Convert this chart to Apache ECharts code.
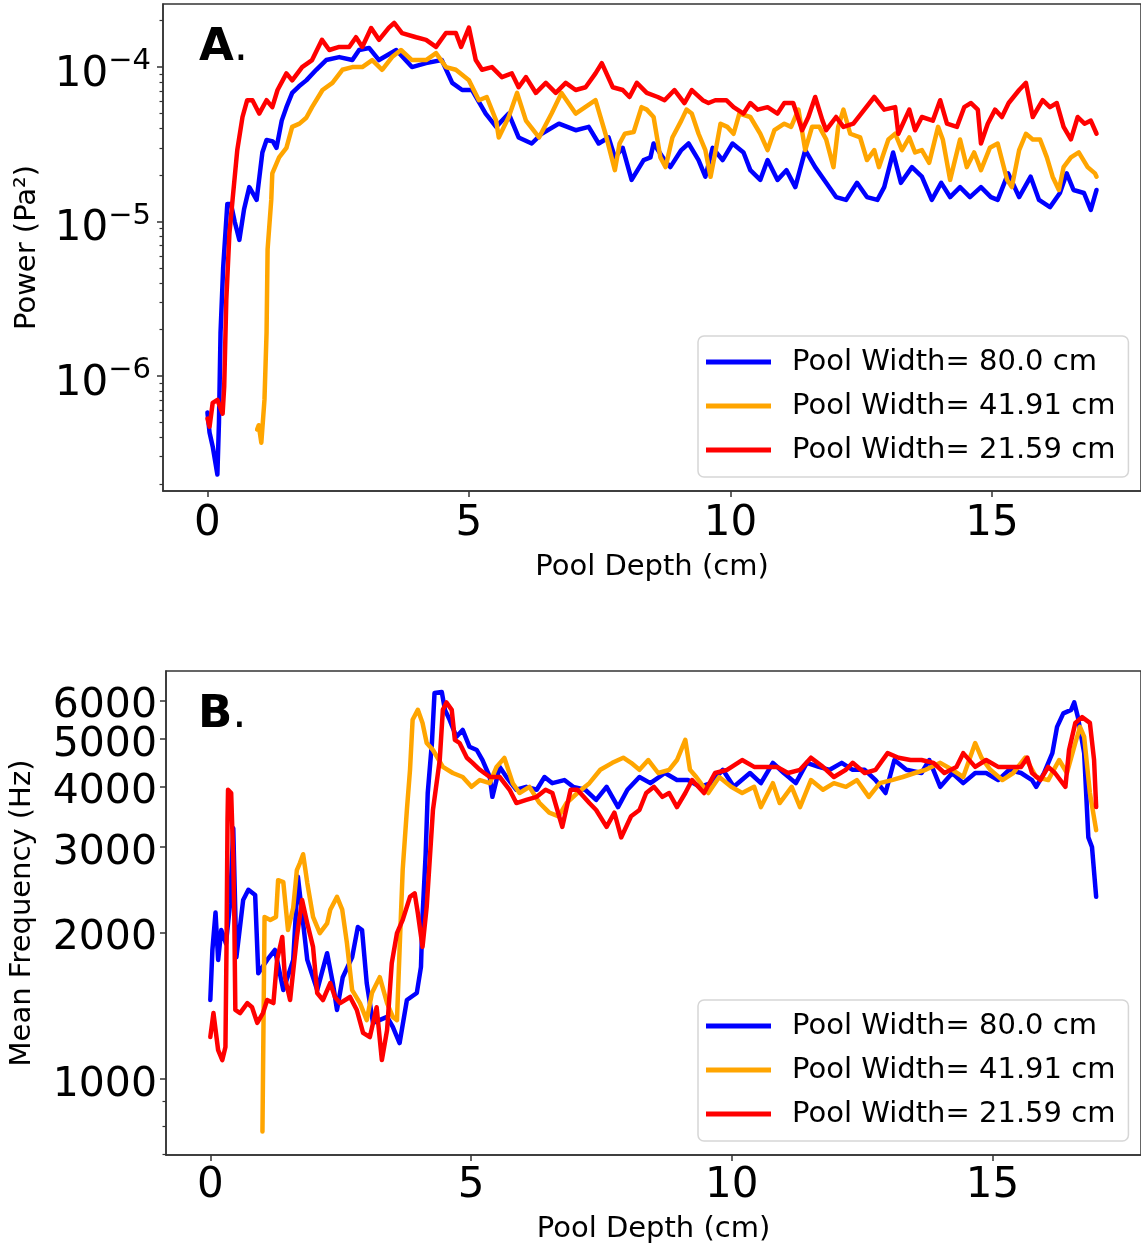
<!DOCTYPE html>
<html><head><meta charset="utf-8">
<script src="https://cdn.jsdelivr.net/npm/echarts@6/dist/echarts.min.js"></script>
<style>html,body{margin:0;padding:0;background:#fff}#c{width:1141px;height:1245px}</style>
</head><body><div id="c"></div>
<script>
const seriesNames = ['Pool Width= 80.0 cm', 'Pool Width= 41.91 cm', 'Pool Width= 21.59 cm'];
const seriesColors = ['#0000ff', '#ffa500', '#ff0000'];
const depthTicks = [0, 5, 10, 15];
const powerTicks = [1e-6, 1e-5, 1e-4];
const powerMinorTicks = [2e-7,3e-7,4e-7,5e-7,6e-7,7e-7,8e-7,9e-7,2e-6,3e-6,4e-6,5e-6,6e-6,7e-6,8e-6,9e-6,2e-5,3e-5,4e-5,5e-5,6e-5,7e-5,8e-5,9e-5,2e-4];
const freqTicks = [1000, 2000, 3000, 4000, 5000, 6000];
const freqLabelsEven = [2000, 4000, 6000];
const freqLabelsOdd = [1000, 3000, 5000];
const freqMinorTicks = [700, 800, 900];

// Panel A: [pool depth (cm), power (Pa^2)]
const powerA_80 = [[0,5.8e-7],[0.04,4.3e-7],[0.1,3.5e-7],[0.19,2.3e-7],[0.22,5e-7],[0.25,1.9e-6],[0.3,5e-6],[0.38,1.3e-5],[0.45,1.3e-5],[0.52,1e-5],[0.61,7.6e-6],[0.7,1.2e-5],[0.8,1.67e-5],[0.88,1.5e-5],[0.94,1.38e-5],[1.05,2.8e-5],[1.13,3.37e-5],[1.25,3.3e-5],[1.32,3.0e-5],[1.42,4.5e-5],[1.51,5.5e-5],[1.62,6.8e-5],[1.75,7.5e-5],[1.89,8.2e-5],[2.08,9.6e-5],[2.27,1.11e-4],[2.52,1.16e-4],[2.77,1.11e-4],[2.9,1.29e-4],[3.09,1.33e-4],[3.28,1.11e-4],[3.61,1.29e-4],[3.91,1.0e-4],[4.18,1.06e-4],[4.48,1.11e-4],[4.68,7.9e-5],[4.87,7.1e-5],[5.06,7.1e-5],[5.32,5.0e-5],[5.52,4.1e-5],[5.76,5.0e-5],[5.95,3.5e-5],[6.2,3.2e-5],[6.39,3.7e-5],[6.72,4.3e-5],[7.04,3.9e-5],[7.29,4.1e-5],[7.48,3.2e-5],[7.67,3.5e-5],[7.79,2.6e-5],[7.94,3.0e-5],[8.11,1.86e-5],[8.34,2.5e-5],[8.47,2.6e-5],[8.53,3.2e-5],[8.74,2.5e-5],[8.85,2.25e-5],[9.06,2.9e-5],[9.2,3.2e-5],[9.39,2.5e-5],[9.52,1.95e-5],[9.66,3.0e-5],[9.85,2.5e-5],[10.04,3.2e-5],[10.25,2.8e-5],[10.38,2.15e-5],[10.57,1.86e-5],[10.71,2.5e-5],[10.9,1.86e-5],[11.07,2.15e-5],[11.24,1.67e-5],[11.43,2.9e-5],[11.62,2.25e-5],[11.83,1.78e-5],[12.02,1.44e-5],[12.21,1.38e-5],[12.42,1.78e-5],[12.61,1.44e-5],[12.81,1.38e-5],[12.94,1.67e-5],[13.11,2.8e-5],[13.26,1.78e-5],[13.47,2.25e-5],[13.66,1.95e-5],[13.85,1.38e-5],[14.03,1.78e-5],[14.2,1.44e-5],[14.39,1.67e-5],[14.58,1.44e-5],[14.79,1.67e-5],[14.98,1.44e-5],[15.11,1.38e-5],[15.31,2.05e-5],[15.52,1.44e-5],[15.74,1.95e-5],[15.9,1.38e-5],[16.11,1.24e-5],[16.3,1.53e-5],[16.43,2.05e-5],[16.56,1.6e-5],[16.76,1.53e-5],[16.89,1.19e-5],[17.0,1.6e-5]];
const powerA_4191 = [[0.95,4.5e-7],[0.98,4.8e-7],[1.03,3.7e-7],[1.09,7e-7],[1.13,1.9e-6],[1.15,6.6e-6],[1.22,1.38e-5],[1.24,2.05e-5],[1.37,2.6e-5],[1.51,3.0e-5],[1.62,4.1e-5],[1.76,4.3e-5],[1.89,4.7e-5],[2.0,5.5e-5],[2.2,7.1e-5],[2.39,7.9e-5],[2.58,9.6e-5],[2.77,1.0e-4],[2.96,1.0e-4],[3.15,1.11e-4],[3.34,9.6e-5],[3.53,1.16e-4],[3.7,1.29e-4],[3.91,1.11e-4],[4.18,1.11e-4],[4.37,1.23e-4],[4.56,1.0e-4],[4.75,9.6e-5],[5.0,8.2e-5],[5.19,6.1e-5],[5.34,6.4e-5],[5.52,4.5e-5],[5.57,3.5e-5],[5.76,4.75e-5],[5.92,6.8e-5],[6.09,4.5e-5],[6.34,3.5e-5],[6.58,5.0e-5],[6.77,6.8e-5],[7.04,5.0e-5],[7.42,6.1e-5],[7.61,3.7e-5],[7.79,2.15e-5],[7.88,3.2e-5],[7.98,3.7e-5],[8.15,3.8e-5],[8.3,5.5e-5],[8.4,5.3e-5],[8.53,4.75e-5],[8.66,2.6e-5],[8.76,2.25e-5],[8.89,3.5e-5],[9.06,4.5e-5],[9.16,5.3e-5],[9.26,5.0e-5],[9.39,3.7e-5],[9.52,2.9e-5],[9.62,1.95e-5],[9.71,2.8e-5],[9.81,4.3e-5],[9.94,4.1e-5],[10.06,3.7e-5],[10.17,5.0e-5],[10.38,4.75e-5],[10.57,3.7e-5],[10.71,2.9e-5],[10.84,3.9e-5],[11.03,4.3e-5],[11.16,4.1e-5],[11.3,5.3e-5],[11.43,2.9e-5],[11.56,4.1e-5],[11.7,4.1e-5],[11.83,3.4e-5],[11.97,2.25e-5],[12.06,4.1e-5],[12.16,5.3e-5],[12.29,3.7e-5],[12.48,3.5e-5],[12.61,2.5e-5],[12.75,2.9e-5],[12.84,2.25e-5],[13.02,3.4e-5],[13.15,3.7e-5],[13.28,2.9e-5],[13.42,3.5e-5],[13.53,2.8e-5],[13.66,2.9e-5],[13.8,2.4e-5],[13.97,4.1e-5],[14.06,3.4e-5],[14.2,1.86e-5],[14.39,3.4e-5],[14.52,2.25e-5],[14.66,2.8e-5],[14.79,2.15e-5],[14.96,3.0e-5],[15.11,3.2e-5],[15.29,1.86e-5],[15.38,1.67e-5],[15.52,2.9e-5],[15.65,3.7e-5],[15.78,3.4e-5],[15.92,3.4e-5],[16.05,2.6e-5],[16.16,1.95e-5],[16.28,1.6e-5],[16.37,2.25e-5],[16.51,2.6e-5],[16.66,2.8e-5],[16.83,2.25e-5],[16.97,2.05e-5],[17.0,1.95e-5]];
const powerA_2159 = [[0,5.3e-7],[0.04,4.7e-7],[0.1,6.7e-7],[0.19,7e-7],[0.29,5.7e-7],[0.32,8.5e-7],[0.36,3.1e-6],[0.42,8.4e-6],[0.48,1.38e-5],[0.57,2.9e-5],[0.67,4.75e-5],[0.76,6.1e-5],[0.86,6.1e-5],[0.99,5.0e-5],[1.13,6.1e-5],[1.24,5.5e-5],[1.34,7.1e-5],[1.51,9.1e-5],[1.62,8.2e-5],[1.81,1.0e-4],[2.0,1.11e-4],[2.19,1.5e-4],[2.33,1.29e-4],[2.52,1.35e-4],[2.71,1.35e-4],[2.84,1.56e-4],[2.96,1.35e-4],[3.13,1.79e-4],[3.28,1.5e-4],[3.47,1.8e-4],[3.57,1.93e-4],[3.72,1.66e-4],[3.99,1.56e-4],[4.18,1.5e-4],[4.37,1.35e-4],[4.56,1.66e-4],[4.75,1.66e-4],[4.85,1.35e-4],[5.0,1.8e-4],[5.13,1.11e-4],[5.25,9.6e-5],[5.44,1.0e-4],[5.63,8.6e-5],[5.82,9.1e-5],[5.95,7.4e-5],[6.09,8.6e-5],[6.28,6.8e-5],[6.47,7.9e-5],[6.66,6.8e-5],[6.85,7.9e-5],[7.04,7.1e-5],[7.23,7.4e-5],[7.42,9.1e-5],[7.54,1.06e-4],[7.75,7.4e-5],[7.94,7.1e-5],[8.07,6.4e-5],[8.21,7.9e-5],[8.4,6.8e-5],[8.61,6.4e-5],[8.74,6.1e-5],[8.93,7.1e-5],[9.12,5.85e-5],[9.26,7.1e-5],[9.47,6.1e-5],[9.58,5.85e-5],[9.71,6.1e-5],[9.92,6.1e-5],[10.06,5.5e-5],[10.25,5.0e-5],[10.38,5.85e-5],[10.52,5.3e-5],[10.71,5.5e-5],[10.9,5.0e-5],[11.03,5.85e-5],[11.2,5.85e-5],[11.37,3.9e-5],[11.49,4.75e-5],[11.62,6.4e-5],[11.76,4.5e-5],[11.83,3.9e-5],[12.02,4.75e-5],[12.16,4.1e-5],[12.35,4.3e-5],[12.56,5.3e-5],[12.75,6.4e-5],[12.94,5.3e-5],[13.15,5.5e-5],[13.21,3.7e-5],[13.42,5.3e-5],[13.53,3.9e-5],[13.66,4.75e-5],[13.87,4.5e-5],[14.01,6.1e-5],[14.14,4.3e-5],[14.33,4.1e-5],[14.47,5.5e-5],[14.6,5.85e-5],[14.73,5.3e-5],[14.79,3.2e-5],[14.92,4.3e-5],[15.06,5.3e-5],[15.19,4.75e-5],[15.32,5.85e-5],[15.52,7.1e-5],[15.65,7.9e-5],[15.78,4.75e-5],[15.97,6.1e-5],[16.11,5.5e-5],[16.24,5.85e-5],[16.37,4.1e-5],[16.51,3.4e-5],[16.64,4.75e-5],[16.77,4.3e-5],[16.89,4.5e-5],[17.0,3.7e-5]];

// Panel B: [pool depth (cm), mean frequency (Hz)]
const freqB_80 = [[0,1454],[0.04,1843],[0.1,2200],[0.15,1758],[0.21,2025],[0.3,1900],[0.38,2300],[0.44,3280],[0.5,1780],[0.63,2335],[0.73,2450],[0.86,2390],[0.92,1650],[1.09,1758],[1.24,1843],[1.4,1524],[1.59,1758],[1.68,2605],[1.86,1758],[2.05,1524],[2.24,1815],[2.35,1575],[2.43,1387],[2.54,1620],[2.72,1780],[2.83,2055],[2.91,2025],[3.0,1575],[3.12,1305],[3.39,1342],[3.5,1280],[3.63,1186],[3.77,1454],[3.96,1503],[4.04,1700],[4.07,2155],[4.13,2900],[4.17,3875],[4.25,4910],[4.3,6220],[4.44,6250],[4.5,5745],[4.59,5480],[4.72,5055],[4.84,5225],[4.97,4825],[5.11,4750],[5.22,4530],[5.36,4180],[5.41,3805],[5.55,4385],[5.68,4180],[5.87,3935],[6.06,3990],[6.26,3935],[6.41,4180],[6.56,4060],[6.79,4120],[6.96,3990],[7.19,3935],[7.4,3750],[7.6,3990],[7.82,3625],[8.0,3935],[8.23,4180],[8.44,4060],[8.72,4260],[8.95,4120],[9.16,4120],[9.39,3990],[9.6,4060],[9.83,4325],[10.04,3990],[10.35,4260],[10.56,4060],[10.79,4470],[11.0,4260],[11.23,4060],[11.44,4470],[11.67,4385],[11.88,4325],[12.11,4470],[12.32,4325],[12.55,4325],[12.76,4120],[12.95,3875],[13.12,4530],[13.35,4325],[13.64,4260],[13.79,4530],[14.0,3990],[14.23,4260],[14.44,4060],[14.67,4260],[14.88,4260],[15.11,4120],[15.32,4325],[15.55,4260],[15.76,4120],[15.84,3990],[15.99,4260],[16.15,4680],[16.24,5300],[16.36,5650],[16.51,5745],[16.57,5950],[16.64,5550],[16.76,4680],[16.84,3140],[16.91,3000],[16.99,2370]];
const freqB_4191 = [[1.0,780],[1.04,2155],[1.15,2125],[1.26,2155],[1.3,2565],[1.4,2540],[1.49,2025],[1.59,2250],[1.66,2690],[1.72,2785],[1.78,2900],[1.86,2530],[1.97,2155],[2.1,1995],[2.24,2090],[2.3,2230],[2.43,2370],[2.53,2230],[2.62,1905],[2.72,1524],[2.87,1433],[3.0,1322],[3.1,1503],[3.25,1620],[3.39,1433],[3.5,1342],[3.58,1322],[3.63,1843],[3.69,2700],[3.77,3575],[3.83,4325],[3.88,5480],[3.98,5745],[4.07,5400],[4.15,4910],[4.27,4750],[4.46,4385],[4.65,4260],[4.84,4180],[5.01,3990],[5.17,4120],[5.36,4060],[5.49,4385],[5.64,4575],[5.8,4060],[5.93,3875],[6.12,3990],[6.31,3700],[6.5,3530],[6.68,3470],[6.83,3695],[7.04,3875],[7.27,4060],[7.48,4325],[7.71,4470],[7.92,4580],[8.07,4470],[8.23,4325],[8.4,4530],[8.59,4260],[8.8,4325],[8.95,4530],[9.11,4985],[9.2,4325],[9.32,4180],[9.55,3875],[9.76,4180],[9.99,3990],[10.2,3875],[10.43,3990],[10.56,3625],[10.79,4060],[10.92,3695],[11.15,3990],[11.31,3625],[11.52,4120],[11.75,3935],[11.96,4060],[12.19,3990],[12.4,4120],[12.63,3805],[12.84,4060],[13.07,4120],[13.28,4180],[13.51,4260],[13.72,4325],[14.0,4470],[14.23,4325],[14.44,4180],[14.67,4910],[14.79,4580],[14.96,4325],[15.19,4120],[15.4,4260],[15.63,4580],[15.84,4180],[16.07,4120],[16.28,4530],[16.43,4260],[16.59,4910],[16.68,5300],[16.76,5055],[16.87,3875],[16.99,3250]];
const freqB_2159 = [[0,1220],[0.06,1367],[0.15,1147],[0.23,1094],[0.29,1164],[0.31,1843],[0.33,3410],[0.34,3935],[0.4,3875],[0.44,2825],[0.46,2155],[0.48,1387],[0.57,1367],[0.71,1433],[0.8,1405],[0.9,1305],[1.01,1367],[1.09,1454],[1.21,1433],[1.28,1758],[1.38,1960],[1.43,1620],[1.53,1454],[1.66,1960],[1.76,2335],[1.86,2090],[1.97,1870],[2.05,1503],[2.16,1454],[2.3,1575],[2.39,1475],[2.49,1433],[2.68,1475],[2.81,1387],[2.93,1245],[3.06,1220],[3.19,1405],[3.29,1094],[3.39,1261],[3.48,1732],[3.58,1995],[3.69,2125],[3.83,2370],[3.92,2410],[3.98,2195],[4.07,1870],[4.15,2260],[4.27,3575],[4.4,4530],[4.46,5745],[4.53,5950],[4.63,5745],[4.69,4985],[4.78,4910],[4.92,4580],[5.03,4470],[5.17,4325],[5.36,4180],[5.55,4180],[5.74,3935],[5.87,3695],[6.06,3750],[6.26,3805],[6.43,3935],[6.56,3875],[6.75,3300],[6.91,3935],[7.04,3935],[7.27,3695],[7.4,3575],[7.6,3300],[7.75,3530],[7.88,3140],[8.07,3470],[8.23,3575],[8.36,3875],[8.51,3990],[8.67,3805],[8.8,3875],[8.95,3625],[9.11,3875],[9.24,4120],[9.47,3875],[9.68,4260],[9.91,4325],[10.2,4530],[10.43,4385],[10.64,4385],[10.87,4385],[11.08,4260],[11.31,4325],[11.52,4580],[11.75,4385],[11.96,4180],[12.19,4325],[12.32,4470],[12.55,4260],[12.76,4325],[12.99,4680],[13.2,4580],[13.43,4530],[13.64,4530],[13.87,4470],[14.08,4260],[14.31,4385],[14.44,4680],[14.67,4385],[14.88,4530],[15.11,4385],[15.32,4385],[15.55,4385],[15.67,4580],[15.76,4260],[15.92,4120],[16.07,4385],[16.2,4260],[16.4,3990],[16.47,4750],[16.59,5400],[16.72,5550],[16.87,5400],[16.95,4530],[16.99,3625]];

const FONT = 'DejaVu Sans';
const AX = '#333';

function xAxisCfg(grid, gap, margin) {
  return {
    type: 'value', gridIndex: grid, min: -0.85, max: 17.85,
    axisLine: { show: true, onZero: false, lineStyle: { color: AX, width: 1.5 } },
    axisTick: { show: true, customValues: depthTicks, length: 6, lineStyle: { color: AX, width: 1.5 } },
    axisLabel: { customValues: depthTicks, fontSize: 42, fontFamily: FONT, color: '#000', margin: margin },
    splitLine: { show: false },
    name: 'Pool Depth (cm)', nameLocation: 'middle', nameGap: gap,
    nameTextStyle: { fontSize: 29, fontFamily: FONT, color: '#000' }
  };
}
function freqLabel(vals) {
  return {
    customValues: vals, margin: 9, color: '#000', fontFamily: FONT, hideOverlap: false,
    formatter: function (v) { return '{v|' + Math.round(v) + '}'; },
    rich: { v: { fontSize: 41, lineHeight: 41, fontFamily: FONT, color: '#000', verticalAlign: 'top', padding: [6, 0, 0, 0] } }
  };
}
function legendCfg(top) {
  return {
    data: seriesNames, orient: 'vertical', left: 698, top: top,
    icon: 'rect', itemWidth: 65, itemHeight: 5, itemGap: 14,
    padding: [11, 13, 12, 8],
    backgroundColor: 'rgba(255,255,255,0.8)', borderColor: '#d6d6d6', borderWidth: 1.5, borderRadius: 6,
    textStyle: { fontSize: 29, fontFamily: FONT, color: '#000', lineHeight: 30, padding: [0, 0, 0, 16] },
    selectedMode: false
  };
}
function lineSeries(i, data, xi, yi) {
  return {
    type: 'line', name: seriesNames[i], data: data, xAxisIndex: xi, yAxisIndex: yi,
    showSymbol: false, symbol: 'none', smooth: false, color: seriesColors[i],
    lineStyle: { color: seriesColors[i], width: 4.5, cap: 'round', join: 'round' },
    emphasis: { disabled: true }, z: 2 + i
  };
}

const chart = echarts.init(document.getElementById('c'), null, { renderer: 'canvas' });
chart.setOption({
  animation: false,
  backgroundColor: '#fff',
  grid: [
    { left: 163, top: 4, width: 980, height: 487, show: true, borderColor: AX, borderWidth: 1.5, backgroundColor: 'transparent' },
    { left: 166, top: 671, width: 975, height: 484, show: true, borderColor: AX, borderWidth: 1.5, backgroundColor: 'transparent' }
  ],
  xAxis: [ xAxisCfg(0, 62, 12), xAxisCfg(1, 60, 10) ],
  yAxis: [
    {
      type: 'log', logBase: 10, gridIndex: 0, min: 1.8e-7, max: 2.56e-4,
      axisLine: { show: true, onZero: false, lineStyle: { color: AX, width: 1.5 } },
      axisTick: { show: true, customValues: powerTicks, length: 6, lineStyle: { color: AX, width: 1.5 } },
      axisLabel: {
        customValues: powerTicks, margin: 12, color: '#000', fontFamily: FONT,
        formatter: function (v) { const e = Math.round(Math.log10(v)); return '{b|10}{s|\u2212' + (-e) + '}'; },
        rich: {
          b: { fontSize: 42, lineHeight: 42, fontFamily: FONT, color: '#000', verticalAlign: 'top', padding: [8, 0, 0, 0] },
          s: { fontSize: 29, lineHeight: 29, fontFamily: FONT, color: '#000', verticalAlign: 'top', padding: [1, 0, 0, 0] }
        }
      },
      splitLine: { show: false },
      name: 'Power (Pa\u00b2)', nameLocation: 'middle', nameGap: 121,
      nameTextStyle: { fontSize: 29, fontFamily: FONT, color: '#000' }
    },
    {
      type: 'log', logBase: 10, gridIndex: 1, min: 698, max: 6905,
      axisLine: { show: true, onZero: false, lineStyle: { color: AX, width: 1.5 } },
      axisTick: { show: true, customValues: freqTicks, length: 6, lineStyle: { color: AX, width: 1.5 } },
      axisLabel: freqLabel(freqLabelsEven),
      splitLine: { show: false },
      name: 'Mean Frequency (Hz)', nameLocation: 'middle', nameGap: 129,
      nameTextStyle: { fontSize: 29, fontFamily: FONT, color: '#000' }
    },
    {
      type: 'log', logBase: 10, gridIndex: 0, position: 'left', min: 1.8e-7, max: 2.56e-4,
      axisLine: { show: false, onZero: false }, axisLabel: { show: false }, splitLine: { show: false },
      axisTick: { show: true, customValues: powerMinorTicks, length: 3.5, lineStyle: { color: AX, width: 1.2 } }
    },
    {
      type: 'log', logBase: 10, gridIndex: 1, position: 'left', min: 698, max: 6905,
      axisLine: { show: false, onZero: false }, axisLabel: freqLabel(freqLabelsOdd), splitLine: { show: false },
      axisTick: { show: true, customValues: freqMinorTicks, length: 3.5, lineStyle: { color: AX, width: 1.2 } }
    }
  ],
  legend: [ legendCfg(336), legendCfg(1000) ],
  graphic: [
    { type: 'text', x: 199, y: 48, z: 100, style: { text: '{b|A}{n|.}', verticalAlign: 'middle', rich: { b: { fontSize: 45, fontWeight: 'bold', fontFamily: FONT, fill: '#000' }, n: { fontSize: 45, fontFamily: FONT, fill: '#000' } } } },
    { type: 'text', x: 198, y: 715, z: 100, style: { text: '{b|B}{n|.}', verticalAlign: 'middle', rich: { b: { fontSize: 45, fontWeight: 'bold', fontFamily: FONT, fill: '#000' }, n: { fontSize: 45, fontFamily: FONT, fill: '#000' } } } }
  ],
  series: [
    lineSeries(0, powerA_80, 0, 0),
    lineSeries(1, powerA_4191, 0, 0),
    lineSeries(2, powerA_2159, 0, 0),
    lineSeries(0, freqB_80, 1, 1),
    lineSeries(1, freqB_4191, 1, 1),
    lineSeries(2, freqB_2159, 1, 1)
  ]
});
</script>
</body></html>
